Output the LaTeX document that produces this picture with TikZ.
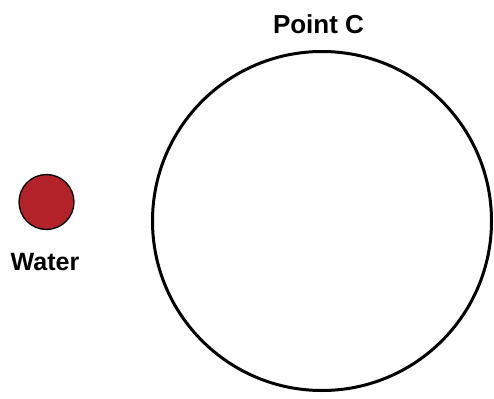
\documentclass[tikz,border=0pt]{standalone}
\usepackage{fontspec}
\setmainfont{Liberation Sans}
\definecolor{waterred}{RGB}{178,34,40}
\begin{document}
\begin{tikzpicture}[x=1pt,y=-1pt]
    \useasboundingbox (0,0) rectangle (494,398);
    \node[shape=circle,draw=black,line width=3pt,minimum size=339pt,inner sep=0pt] (C) at (322,221) {};
    \node[shape=circle,draw=black,fill=waterred,line width=1.3pt,minimum size=55pt,inner sep=0pt] (W) at (46.5,202) {};
    \node[font=\bfseries\fontsize{26}{26}\selectfont,inner sep=0pt] (CL) at (318.5,24) {Point C};
    \node[font=\bfseries\fontsize{25}{25}\selectfont,inner sep=0pt] (WL) at (45,262) {Water};
\end{tikzpicture}
\end{document}
